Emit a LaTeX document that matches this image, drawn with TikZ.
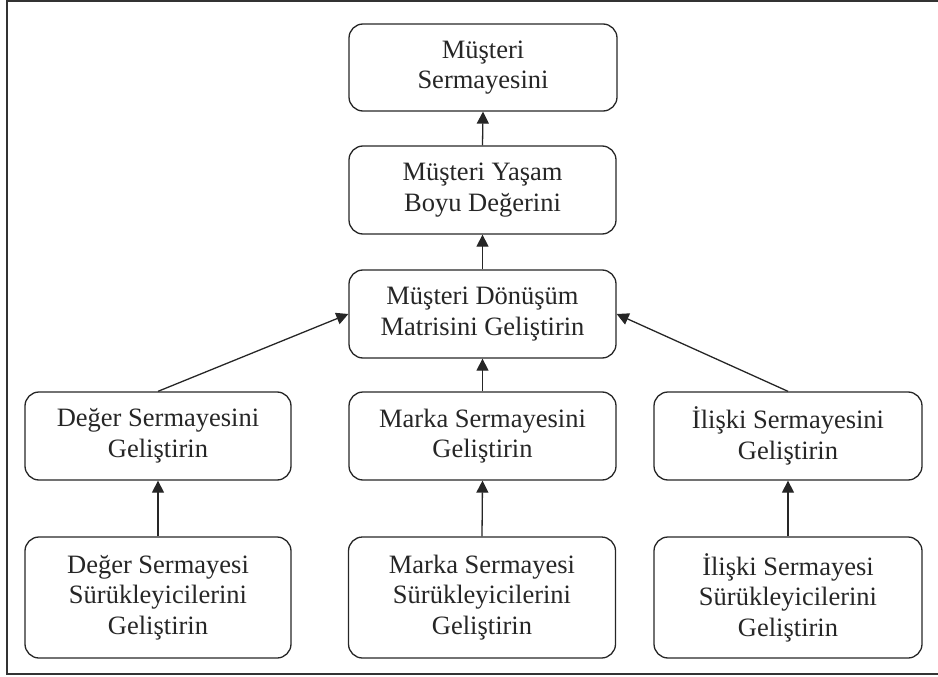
\documentclass[tikz,border=0pt]{standalone}
\usepackage{fontspec}
\setmainfont{Liberation Serif}
\usetikzlibrary{arrows.meta}
\tikzset{
  box/.style={draw=black!85, line width=1.3pt, rounded corners=14pt, align=center,
    inner sep=0pt, text=black!85, font=\fontsize{26.5}{30.5}\selectfont},
  arr/.style={draw=black!85, line width=1.3pt, -{Triangle[length=12pt,width=12pt]}},
  frame/.style={draw=black!80, line width=1.5pt}
}
\begin{document}
\begin{tikzpicture}[x=1pt,y=-1pt]
\useasboundingbox (0,0) rectangle (938,677);
\draw[frame] (938,1) -- (7,1) -- (7,674) -- (938,674);
\node[box, minimum width=268pt, minimum height=87pt] (b1) at (483,67.5) {Müşteri\\Sermayesini};
\node[box, minimum width=267pt, minimum height=88pt] (b2) at (482.5,190) {Müşteri Yaşam\\Boyu Değerini};
\node[box, minimum width=267pt, minimum height=88pt] (b3) at (482.5,314) {Müşteri Dönüşüm\\Matrisini Geliştirin};
\node[box, minimum width=266pt, minimum height=88pt] (l2) at (158,436) {Değer Sermayesini\\Geliştirin};
\node[box, minimum width=267pt, minimum height=88pt] (m2) at (482.5,436) {Marka Sermayesini\\Geliştirin};
\node[box, minimum width=268pt, minimum height=88pt] (r2) at (788,436) {İlişki Sermayesini\\Geliştirin};
\node[box, minimum width=266pt, minimum height=121pt] (l3) at (158,597.5) {Değer Sermayesi\\Sürükleyicilerini\\Geliştirin};
\node[box, minimum width=267pt, minimum height=121pt] (m3) at (482,597.5) {Marka Sermayesi\\Sürükleyicilerini\\Geliştirin};
\node[box, minimum width=268pt, minimum height=121pt] (r3) at (788,597.5) {İlişki Sermayesi\\Sürükleyicilerini\\Geliştirin};
\draw[arr] (b2.north) -- (b1.south);
\draw[arr] (b3.north) -- (b2.south);
\draw[arr] (m2.north) -- (b3.south);
\draw[arr] (l2.north) -- (b3.west);
\draw[arr] (r2.north) -- (b3.east);
\draw[arr] (l3.north) -- (l2.south);
\draw[arr] (m3.north) -- (m2.south);
\draw[arr] (r3.north) -- (r2.south);
\end{tikzpicture}
\end{document}
